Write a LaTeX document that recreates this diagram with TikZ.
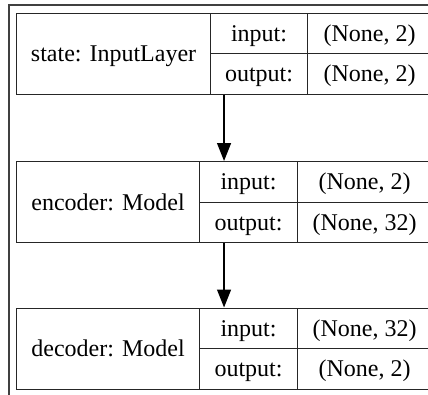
\documentclass[tikz,border=0pt]{standalone}
\usepackage{fontspec}
\setmainfont{Liberation Serif}
\usetikzlibrary{arrows.meta}
\newcommand\layerbox[8]{%
  % #1 prefix, #2 top y, #3 x of label column, #4 x of value column, #5 name, #6 label-in, #7 in, #8 out
  \node[boxframe, minimum width=415bp, minimum height=81bp] (#1) at (16,#2) {};
  \pgfmathsetmacro\wname{#3-16}
  \pgfmathsetmacro\wlab{#4-#3}
  \pgfmathsetmacro\wval{431-#4}
  \pgfmathsetmacro\ymid{#2+40.5}
  \node[cell, minimum width=\wname bp, minimum height=81bp] (#1name) at (16,#2) {#5};
  \node[cell, minimum width=\wlab bp, minimum height=40.5bp] (#1inl) at (#3,#2) {input:};
  \node[cell, minimum width=\wval bp, minimum height=40.5bp] (#1inv) at (#4,#2) {#6};
  \node[cell, minimum width=\wlab bp, minimum height=40.5bp] (#1outl) at (#3,\ymid) {output:};
  \node[cell, minimum width=\wval bp, minimum height=40.5bp] (#1outv) at (#4,\ymid) {#7};
}
\begin{document}
\begin{tikzpicture}[x=1bp,y=-1bp,
  boxframe/.style={draw=black!85, line width=1.1bp, inner sep=0pt, anchor=north west},
  cell/.style={draw=black!85, line width=1.1bp, inner sep=0pt, anchor=north west,
    font=\fontsize{24bp}{28bp}\selectfont, text height=16bp, text depth=0bp},
  frame/.style={draw=black!75, line width=1.8bp},
  conn/.style={-{Triangle[length=18bp,width=14bp]}, line width=1.2bp, draw=black, fill=black}]
\useasboundingbox (0,0) rectangle (428,395);
\clip (0,0) rectangle (428,395);
\fill[white] (0,0) rectangle (428,395);
\draw[frame] (9,5) rectangle (450,420);
\layerbox{b1}{12.5}{210}{307}{state: InputLayer}{(None, 2)}{(None, 2)}{}
\layerbox{b2}{161}{199}{297}{encoder: Model}{(None, 2)}{(None, 32)}{}
\layerbox{b3}{307.5}{199}{297}{decoder: Model}{(None, 32)}{(None, 2)}{}
\draw[conn] (b1.south) -- (b2.north);
\draw[conn] (b2.south) -- (b3.north);
\end{tikzpicture}
\end{document}
